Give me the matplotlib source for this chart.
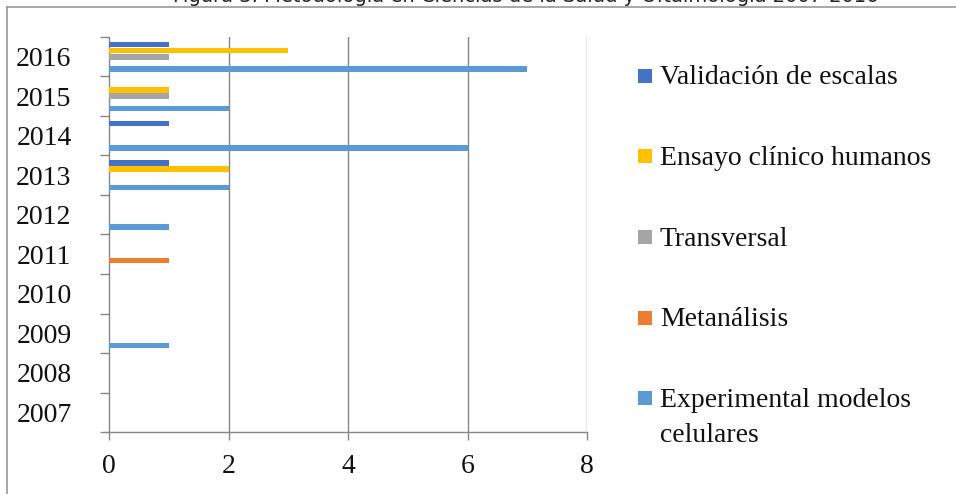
import numpy as np
import matplotlib
matplotlib.use("Agg")
import matplotlib.pyplot as plt
from matplotlib.lines import Line2D
from matplotlib.patches import Rectangle

# ---- data -------------------------------------------------------------
years = ["2007", "2008", "2009", "2010", "2011", "2012", "2013", "2014", "2015", "2016"]

experimental = [0, 0, 1, 0, 0, 1, 2, 6, 2, 7]
metanalisis  = [0, 0, 0, 0, 1, 0, 0, 0, 0, 0]
transversal  = [0, 0, 0, 0, 0, 0, 0, 0, 1, 1]
ensayo       = [0, 0, 0, 0, 0, 0, 2, 0, 1, 3]
validacion   = [0, 0, 0, 0, 0, 0, 1, 1, 0, 1]

series_names = ["Experimental modelos\ncelulares", "Metanálisis", "Transversal",
                "Ensayo clínico humanos", "Validación de escalas"]
series_values = [experimental, metanalisis, transversal, ensayo, validacion]
series_colors = ["#5B9BD5", "#ED7D31", "#A5A5A5", "#FFC000", "#4472C4"]

x_ticks = [0, 2, 4, 6, 8]

# ---- figure -----------------------------------------------------------
W, H = 956, 494
fig = plt.figure(figsize=(W / 100, H / 100), dpi=100)
serif = ["Liberation Serif", "DejaVu Serif"]
plt.rcParams["font.family"] = serif
text_col = "#111111"

ax = fig.add_axes([109 / W, (H - 432) / H, (587 - 109) / W, (432 - 37) / H])

ypos = np.arange(len(years))
step = 0.155
bar_h = 0.142
for i, (name, vals, col) in enumerate(zip(series_names, series_values, series_colors)):
    off = (i - 2) * step
    ax.barh(ypos + off, vals, height=bar_h, color=col, label=name, zorder=3)

ax.set_xlim(0, 8)
ax.set_ylim(-0.5, len(years) - 0.5)

grid_col = "#868686"
ax.set_xticks(x_ticks)
ax.set_xticklabels([str(t) for t in x_ticks])
for v in x_ticks[1:]:
    ax.axvline(v, color=grid_col, lw=1.0, zorder=1)

ax.set_yticks(ypos)
ax.set_yticklabels(years)
ax.set_yticks(np.arange(-0.5, len(years), 1.0), minor=True)
ax.tick_params(axis="y", which="major", length=0, pad=27, labelsize=20, labelcolor=text_col)
ax.tick_params(axis="y", which="minor", length=6.5, width=1.0, color=grid_col, direction="out")
ax.tick_params(axis="x", which="major", length=6, width=1.0, color=grid_col, direction="out",
               pad=10, labelsize=20, labelcolor=text_col)

for s in ("top", "right"):
    ax.spines[s].set_visible(False)
for s in ("left", "bottom"):
    ax.spines[s].set_color(grid_col)
    ax.spines[s].set_linewidth(1.0)

# legend on the right, listed from the top series down
legend_top = 76          # centre of the first marker, in pixels from the top
legend_step = 80.5
for k, (name, col) in enumerate(zip(series_names[::-1], series_colors[::-1])):
    yc = legend_top + k * legend_step
    fig.add_artist(Rectangle((638 / W, 1 - (yc + 7) / H), 14 / W, 14 / H,
                             transform=fig.transFigure, facecolor=col, edgecolor="none"))
    fig.text(660 / W, 1 - (yc + 8.5) / H, name.split("\n")[0], ha="left", va="baseline",
             fontsize=20, color=text_col)
    for j, extra in enumerate(name.split("\n")[1:], start=1):
        fig.text(660 / W, 1 - (yc + 8.5 + 35 * j) / H, extra, ha="left", va="baseline",
                 fontsize=20, color=text_col)

# outer chart frame
fig.add_artist(Line2D([7 / W, 7 / W], [0, 1 - 7 / H], transform=fig.transFigure,
                      color="#9a9a9a", lw=1.2))
fig.add_artist(Line2D([7 / W, 1], [1 - 7 / H, 1 - 7 / H], transform=fig.transFigure,
                      color="#9a9a9a", lw=1.2))

# caption sitting above the frame (only its lower edge is on the canvas)
fig.text(0.55, 1 - 2 / H, "Figura 3. Metodología en Ciencias de la Salud y Oftalmología 2007-2016",
         ha="center", va="baseline", fontsize=14, family=["DejaVu Sans"], color="#222222")

fig.savefig("out.png", dpi=100)
